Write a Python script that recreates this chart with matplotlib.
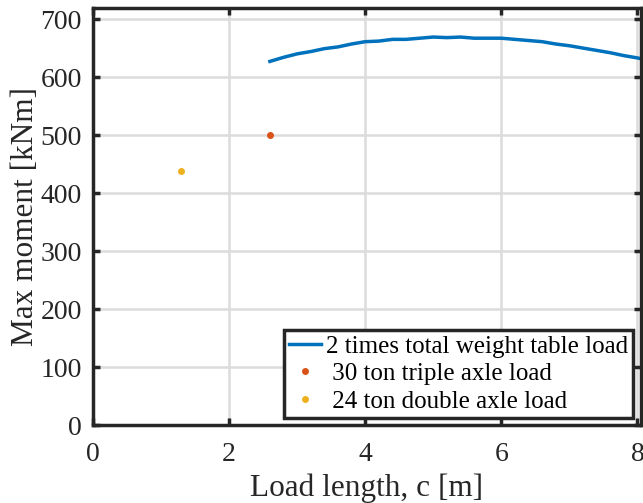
import matplotlib
matplotlib.use('Agg')
import matplotlib.pyplot as plt

# data
load_length = [2.6, 2.8, 3.0, 3.2, 3.4, 3.6, 3.8, 4.0, 4.2, 4.4, 4.6, 4.8, 5.0, 5.2,
               5.4, 5.6, 5.8, 6.0, 6.2, 6.4, 6.6, 6.8, 7.0, 7.2, 7.4, 7.6, 7.8, 8.0, 8.2]
table_moment = [627, 634, 640, 644, 649, 652, 657, 661, 662, 665, 665, 667, 669, 668,
                669, 667, 667, 667, 665, 663, 661, 657, 654, 650, 646, 642, 637, 633, 628]
triple_c = [2.6]
triple_m = [500]
double_c = [1.3]
double_m = [438]

plt.rcParams['font.family'] = ['Liberation Serif', 'DejaVu Serif']

fig = plt.figure(figsize=(6.43, 5.03), dpi=100)
ax = fig.add_axes([0.1446, 0.155, 0.852, 0.829])

ax.plot(load_length, table_moment, color='#0072BD', lw=2.5,
        label='2 times total weight table load')
ax.plot(triple_c, triple_m, '.', color='#D95319', ms=8, label=' 30 ton triple axle load')
ax.plot(double_c, double_m, '.', color='#EDB120', ms=8, label=' 24 ton double axle load')

ax.set_xlim(0, 8.05)
ax.set_ylim(0, 719)
ax.set_xticks([0, 2, 4, 6, 8])
ax.set_yticks(range(0, 701, 100))
ax.grid(True, color='#dcdcdc', lw=1.8)
ax.set_axisbelow(True)
for s in ax.spines.values():
    s.set_linewidth(2.5)
    s.set_color('#262626')
ax.tick_params(direction='in', top=True, right=True, width=2.5, length=5,
               labelsize=20, colors='#262626')
ax.tick_params(axis='x', pad=12)
ax.tick_params(axis='y', pad=8)
ax.set_xlabel('Load length, c [m]', fontsize=22.5, color='#262626', labelpad=5)
ax.set_ylabel('Max moment [kNm]', fontsize=22.5, color='#262626', labelpad=0)

leg = ax.legend(loc='lower right', fontsize=18, frameon=True, fancybox=False,
                edgecolor='#262626', framealpha=1, borderpad=0.2, labelspacing=0.2,
                handlelength=1.3, handletextpad=0.2, borderaxespad=0.3)
leg.get_frame().set_linewidth(2.5)

fig.savefig('out.png', dpi=100)
